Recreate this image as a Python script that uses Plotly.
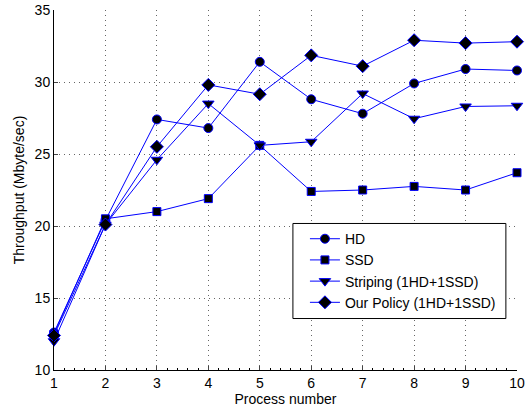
import plotly.graph_objects as go

process = [1, 2, 3, 4, 5, 6, 7, 8, 9, 10]
hd = [12.6, 20.4, 27.4, 26.8, 31.4, 28.8, 27.8, 29.9, 30.9, 30.8]
ssd = [12.5, 20.5, 21.0, 21.9, 25.6, 22.4, 22.5, 22.75, 22.5, 23.7]
striping = [12.0, 20.1, 24.6, 28.5, 25.6, 25.85, 29.2, 27.45, 28.3, 28.35]
our_policy = [12.4, 20.1, 25.5, 29.8, 29.15, 31.85, 31.1, 32.9, 32.7, 32.8]

series = [
    ("HD", hd, "circle"),
    ("SSD", ssd, "square"),
    ("Striping (1HD+1SSD)", striping, "triangle-down"),
    ("Our Policy (1HD+1SSD)", our_policy, "diamond"),
]
marker_sizes = {"circle": 9, "square": 8, "triangle-down": 10, "diamond": 10}

fig = go.Figure()
for name, vals, sym in series:
    fig.add_trace(go.Scatter(
        x=process, y=vals, name=name, mode="lines+markers",
        line=dict(color="#0000ff", width=1),
        marker=dict(symbol=sym, size=marker_sizes[sym], color="black",
                    line=dict(color="#0000ff", width=1)),
        cliponaxis=False,
    ))

family = "Liberation Sans, Arial, sans-serif"
tick_font = dict(family=family, size=14, color="black")
title_font = dict(family=family, size=14, color="black")
grid_style = dict(showgrid=True, gridcolor="#666666", griddash="1px,4px", gridwidth=1)

# framed box behind the legend entries
fig.add_shape(
    type="rect", xref="paper", yref="paper",
    x0=0.516, x1=0.976, y0=0.143, y1=0.407,
    fillcolor="white", line=dict(color="black", width=1), layer="above",
)

fig.update_layout(
    width=527, height=409,
    margin=dict(l=54, r=10, t=10, b=39),
    paper_bgcolor="white", plot_bgcolor="white",
    font=tick_font,
    showlegend=True,
    legend=dict(
        x=0.542, y=0.408, xanchor="left", yanchor="top",
        bgcolor="rgba(0,0,0,0)", borderwidth=0,
        font=dict(family=family, size=14, color="black"),
        tracegroupgap=0,
    ),
    xaxis=dict(
        range=[1, 10], tickvals=process, ticks="inside", ticklen=4,
        showline=True, linecolor="black", linewidth=1,
        zeroline=False, tickfont=tick_font, automargin=False,
        minor=dict(dtick=0.2, ticks="inside", ticklen=2, tickcolor="black", showgrid=False),
        title=dict(text="Process number", font=title_font, standoff=2),
        **grid_style,
    ),
    yaxis=dict(
        range=[10, 35], tickvals=[10, 15, 20, 25, 30, 35], ticks="inside", ticklen=4,
        showline=True, linecolor="black", linewidth=1,
        zeroline=False, tickfont=tick_font, automargin=False,
        title=dict(text="Throughput (Mbyte/sec)", font=title_font, standoff=6),
        **grid_style,
    ),
)

fig.write_html("out.html")
